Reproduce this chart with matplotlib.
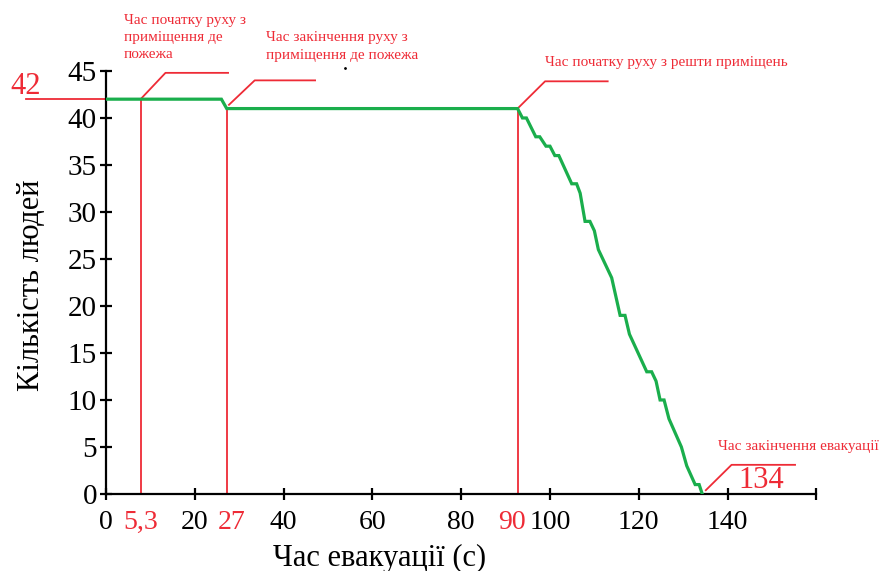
import matplotlib.pyplot as plt

plt.rcParams['font.family'] = ['Liberation Serif', 'DejaVu Serif']

# евакуація: час (с) і кількість людей
times = [0, 26.0, 27.2, 92.7, 93.8, 94.7, 96.8, 97.7, 99.1, 100.0, 101.1, 102.0,
         104.9, 106.0, 106.8, 107.9, 109.0, 110.0, 110.9, 113.9, 115.8, 116.9,
         117.9, 121.8, 122.9, 123.9, 124.8, 125.7, 126.8, 129.6, 130.8, 132.7,
         133.6, 134.3]
people = [42, 42, 41, 41, 40, 40, 38, 38, 37, 37, 36, 36,
          33, 33, 32, 29, 29, 28, 26, 23, 19, 19,
          17, 13, 13, 12, 10, 10, 8, 5, 3, 1,
          1, 0]

# ключові моменти
mark_x = [7.8, 27.2, 92.7]
mark_top = [42, 41, 41]
mark_labels = ['5,3', '27', '90']
mark_texts = ['Час початку руху з\nприміщення де\nпожежа',
              'Час закінчення руху з\nприміщення де пожежа',
              'Час початку руху з решти приміщень']
end_text = 'Час закінчення евакуації'
end_label = '134'
start_label = '42'

red = '#ee2b36'
green = '#1aae4c'

fig = plt.figure(figsize=(8.86, 5.71), dpi=100)
ax = fig.add_axes([0.1196, 0.1349, 0.8018, 0.7408])

ax.plot(times, people, color=green, lw=2.3, zorder=3, solid_joinstyle='miter')

# горизонтальна лінія 42
ax.plot([-17.9, 0], [42, 42], color=red, lw=1.3, clip_on=False)
ax.text(-18.0, 43.4, start_label, color=red, fontsize=22, ha='center', va='center')

# вертикальні лінії
for x, top in zip(mark_x, mark_top):
    ax.plot([x, x], [0, top], color=red, lw=1.3, zorder=2)

# виноски
leaders = [([7.8, 13.4, 27.5], [42, 44.8, 44.8]),
           ([27.7, 33.5, 47.1], [41.4, 44.0, 44.0]),
           ([92.7, 98.9, 113.0], [41, 43.9, 43.9])]
for lx, ly in leaders:
    ax.plot(lx, ly, color=red, lw=1.3, clip_on=False)

ax.text(4.0, 51.1, mark_texts[0], color=red, fontsize=11, ha='left', va='top',
        linespacing=1.42)
ax.text(36.0, 49.2, mark_texts[1], color=red, fontsize=11, ha='left', va='top',
        linespacing=1.42)
ax.text(98.9, 45.9, mark_texts[2], color=red, fontsize=11, ha='left', va='center')
ax.plot([53.8], [45.3], 'k.', ms=2, clip_on=False)

ax.plot([135.1, 140.9, 155.2], [0.4, 3.1, 3.1], color=red, lw=1.3, clip_on=False)
ax.text(137.8, 5.0, end_text, color=red, fontsize=11, ha='left', va='center')
ax.text(147.5, 1.4, end_label, color=red, fontsize=22, ha='center', va='center')

ax.set_xlim(0, 160)
ax.set_ylim(0, 45)
for s in ['top', 'right']:
    ax.spines[s].set_visible(False)
for s in ['left', 'bottom']:
    ax.spines[s].set_linewidth(1.6)

ax.set_xticks(range(0, 161, 20))
ax.set_xticklabels([str(v) for v in range(0, 141, 20)] + [''])
ax.set_xticks([7.8, 28.4, 91.4], minor=True)
ax.set_xticklabels(mark_labels, minor=True)
ax.set_yticks(range(0, 46, 5))

ax.tick_params(axis='both', which='major', direction='inout', length=9, width=1.6,
               labelsize=20, colors='black')
ax.tick_params(axis='y', pad=2, labelsize=21)
ax.tick_params(axis='x', which='major', pad=7)
ax.tick_params(axis='x', which='minor', length=0, labelsize=20, labelcolor=red,
               pad=11.5)

ax.set_xlabel('Час евакуації (с)', fontsize=22)
ax.xaxis.set_label_coords(0.385, -0.117)
ax.set_ylabel('Кількість людей', fontsize=22)
ax.yaxis.set_label_coords(-0.085, 0.494)

fig.savefig('out.png', dpi=100)
